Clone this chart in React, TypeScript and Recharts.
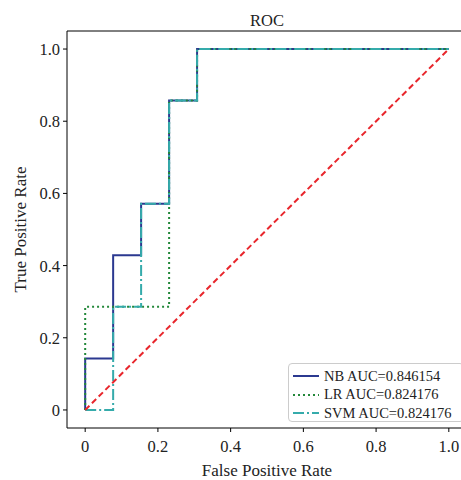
import { Legend, Line, LineChart, ReferenceLine, XAxis, YAxis } from 'recharts';

// ROC points (false positive rate / true positive rate)
const nbFpr = [0, 0, 0.0769, 0.0769, 0.1538, 0.1538, 0.2308, 0.2308, 0.3077, 0.3077, 1];
const nbTpr = [0, 0.1429, 0.1429, 0.4286, 0.4286, 0.5714, 0.5714, 0.8571, 0.8571, 1, 1];

const lrFpr = [0, 0, 0.2308, 0.2308, 0.3077, 0.3077, 1];
const lrTpr = [0, 0.2857, 0.2857, 0.8571, 0.8571, 1, 1];

const svmFpr = [0, 0.0769, 0.0769, 0.1538, 0.1538, 0.2308, 0.2308, 0.3077, 0.3077, 1];
const svmTpr = [0, 0, 0.2857, 0.2857, 0.5714, 0.5714, 0.8571, 0.8571, 1, 1];

const chanceFpr = [0, 1];
const chanceTpr = [0, 1];

const ticks = [0, 0.2, 0.4, 0.6, 0.8, 1.0];
const legendNames = ['NB AUC=0.846154', 'LR AUC=0.824176', 'SVM AUC=0.824176'];

const toPoints = (xs: number[], ys: number[]) => xs.map((x, i) => ({ x, y: ys[i] }));

const font = "'Liberation Serif', 'Times New Roman', serif";
const fmt = (v: number) => (v === 0 ? '0' : v.toFixed(1));

const series = [
  { name: legendNames[0], data: toPoints(nbFpr, nbTpr), color: '#2b3990', dash: undefined },
  { name: legendNames[1], data: toPoints(lrFpr, lrTpr), color: '#23883a', dash: '2 3' },
  { name: legendNames[2], data: toPoints(svmFpr, svmTpr), color: '#35abab', dash: '11 3 2 3' },
];

const tickStyle = { fontFamily: font, fontSize: 16.5, fill: '#222' };

const XTick = ({ x, y, payload }: any) => (
  <text x={x} y={y} dy='0.71em' textAnchor='middle' style={tickStyle}>
    {fmt(payload.value)}
  </text>
);

const YTick = ({ x, y, payload }: any) => (
  <text x={x} y={y} dy='0.36em' textAnchor='end' style={tickStyle}>
    {fmt(payload.value)}
  </text>
);

const RocLegend = () => (
  <div
    style={{
      width: 176,
      height: 59,
      boxSizing: 'border-box',
      border: '1px solid #cccccc',
      borderRadius: 4,
      background: 'rgba(255,255,255,0.85)',
      paddingTop: 3,
      fontFamily: font,
      fontSize: 14.5,
      color: '#222',
    }}
  >
    {series.map((s) => (
      <div key={s.name} style={{ height: 18.5, display: 'flex', alignItems: 'center' }}>
        <svg width={35} height={18} style={{ flex: 'none' }}>
          <line x1={4} x2={30} y1={9} y2={9} stroke={s.color} strokeWidth={2} strokeDasharray={s.dash} />
        </svg>
        <span style={{ whiteSpace: 'nowrap' }}>{s.name}</span>
      </div>
    ))}
  </div>
);

export default function App() {
  return (
    <div
      style={{
        position: 'absolute',
        left: 0,
        top: 0,
        width: 461,
        height: 480,
        overflow: 'hidden',
        background: '#fff',
        fontFamily: font,
      }}
    >
      <LineChart width={480} height={480} margin={{ top: 31, right: 13, bottom: 0, left: 0 }} style={{ fontFamily: font }}>
        <XAxis
          dataKey='x'
          type='number'
          domain={[-0.05, 1.05]}
          allowDataOverflow
          ticks={ticks}
          height={52}
          stroke='#000'
          tickSize={4}
          tickMargin={8}
          tick={<XTick />}
          label={{ value: 'False Positive Rate', position: 'insideBottom', offset: 4, fill: '#222', fontSize: 17, fontFamily: font }}
        />
        <YAxis
          type='number'
          domain={[-0.05, 1.05]}
          allowDataOverflow
          ticks={ticks}
          width={67}
          stroke='#000'
          tickSize={4}
          tickMargin={3}
          tick={<YTick />}
          label={{
            value: 'True Positive Rate',
            angle: -90,
            position: 'insideLeft',
            offset: 20,
            fill: '#222',
            fontSize: 17,
            fontFamily: font,
            style: { textAnchor: 'middle' },
          }}
        />
        <ReferenceLine
          y={1.05}
          stroke='#000'
          strokeWidth={1}
          label={{ value: 'ROC', position: 'top', offset: 5, fill: '#222', fontSize: 16.5, fontFamily: font }}
        />
        {series.map((s) => (
          <Line
            key={s.name}
            data={s.data}
            dataKey='y'
            name={s.name}
            type='linear'
            stroke={s.color}
            strokeWidth={2}
            strokeDasharray={s.dash}
            dot={false}
            activeDot={false}
            isAnimationActive={false}
          />
        ))}
        <Line
          data={toPoints(chanceFpr, chanceTpr)}
          dataKey='y'
          name='chance'
          type='linear'
          stroke='#e8262c'
          strokeWidth={2}
          strokeDasharray='6 3.5'
          dot={false}
          activeDot={false}
          legendType='none'
          isAnimationActive={false}
        />
        <Legend
          layout='vertical'
          align='center'
          verticalAlign='middle'
          content={<RocLegend />}
          wrapperStyle={{ left: 288, top: 363, width: 176, height: 59, margin: 0 }}
        />
      </LineChart>
    </div>
  );
}
